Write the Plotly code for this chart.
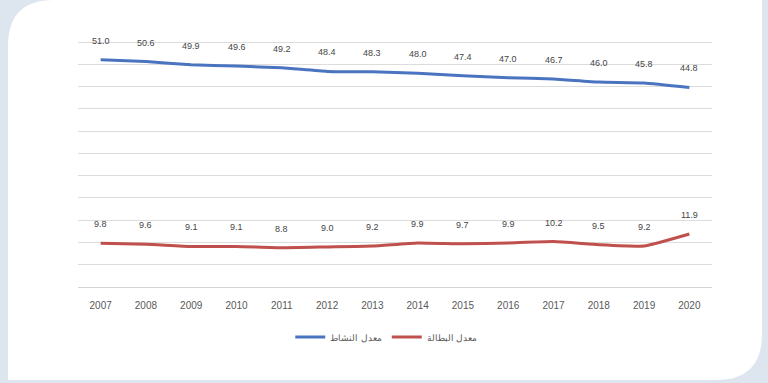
import plotly.graph_objects as go

# Activity and unemployment rates, 2007-2020
years = [str(y) for y in range(2007, 2021)]
activity_rate = [51.0, 50.6, 49.9, 49.6, 49.2, 48.4, 48.3, 48.0, 47.4, 47.0, 46.7, 46.0, 45.8, 44.8]
unemployment_rate = [9.8, 9.6, 9.1, 9.1, 8.8, 9.0, 9.2, 9.9, 9.7, 9.9, 10.2, 9.5, 9.2, 11.9]

activity_name = "معدل النشاط"
unemployment_name = "معدل البطالة"

BLUE = "#4a74c0"
RED = "#bf504d"
FONT = "Liberation Sans, Arial, sans-serif"

W, H = 768, 383
ML, MR, MT, MB = 78, 56, 38, 96
PW, PH = W - ML - MR, H - MT - MB


def px_to_paper(x, y):
    return (x - ML) / PW, (H - MB - y) / PH


def card_path():
    pts = [
        ("M", [(8, 380)]),
        ("L", [(8, 46)]),
        ("Q", [(8, 0), (54, 0)]),
        ("L", [(762, 0)]),
        ("L", [(762, 334)]),
        ("Q", [(762, 380), (716, 380)]),
    ]
    out = []
    for cmd, coords in pts:
        conv = [px_to_paper(x, y) for x, y in coords]
        out.append(cmd + " " + " ".join(f"{a:.5f},{b:.5f}" for a, b in conv))
    return " ".join(out) + " Z"


fig = go.Figure()
fig.add_trace(go.Scatter(
    x=years, y=activity_rate, name=activity_name, mode="lines",
    line=dict(color=BLUE, width=3, shape="spline", smoothing=0.4),
    hoverinfo="x+y",
))
fig.add_trace(go.Scatter(
    x=years, y=unemployment_rate, name=unemployment_name, mode="lines",
    line=dict(color=RED, width=3, shape="spline", smoothing=0.4),
    hoverinfo="x+y",
))

# value labels above each point (category axis positions given by index)
annotations = []
for series in (activity_rate, unemployment_rate):
    for i, v in enumerate(series):
        annotations.append(dict(
            x=i, y=v, xref="x", yref="y", text=f"{v:.1f}",
            showarrow=False, yshift=19, yanchor="middle",
            font=dict(family=FONT, size=9, color="#454545"),
        ))

fig.update_layout(
    width=W, height=H,
    margin=dict(l=ML, r=MR, t=MT, b=MB, pad=0),
    paper_bgcolor="#dde6ee",
    plot_bgcolor="rgba(0,0,0,0)",
    showlegend=True,
    legend=dict(
        orientation="h", x=0.487, xanchor="center", y=px_to_paper(0, 337)[1], yanchor="middle",
        font=dict(family=FONT, size=9, color="#595959"),
        bgcolor="rgba(0,0,0,0)", itemwidth=30, tracegroupgap=0,
    ),
    annotations=annotations,
    shapes=[dict(
        type="path", path=card_path(), xref="paper", yref="paper",
        fillcolor="#ffffff", line=dict(width=0), layer="below",
    )],
    xaxis=dict(
        type="category", range=[-0.5, 13.5], showgrid=False,
        showline=False, ticks="", zeroline=False,
        tickfont=dict(family=FONT, size=10, color="#595959"),
        ticklabelstandoff=11,
    ),
    yaxis=dict(
        range=[0, 55.9], dtick=5, showticklabels=False, ticks="",
        showgrid=True, gridcolor="#dcdcdc", gridwidth=1,
        zeroline=True, zerolinecolor="#d4d4d4", zerolinewidth=1, showline=False,
    ),
)

fig.write_html("out.html")
